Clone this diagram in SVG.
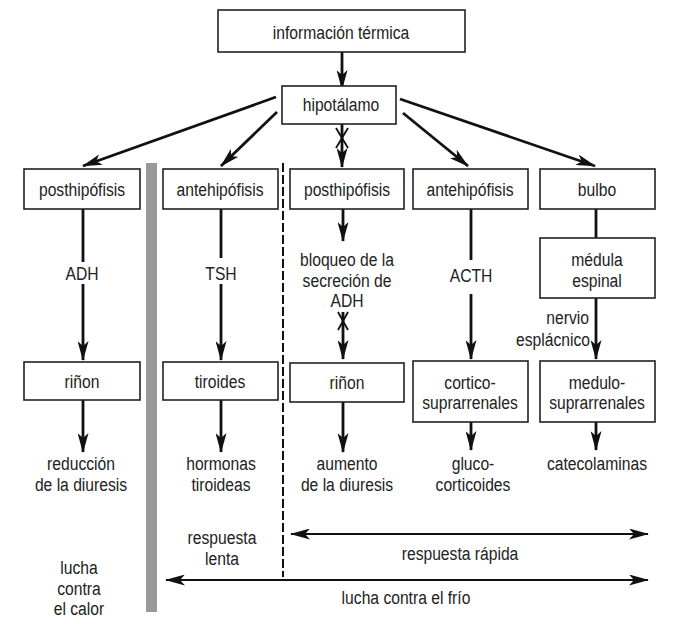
<svg xmlns="http://www.w3.org/2000/svg" width="685" height="624" viewBox="0 0 685 624">
<defs>
<marker id="ah" viewBox="0 0 20 11" markerWidth="20" markerHeight="11" refX="19" refY="5.5" orient="auto-start-reverse" markerUnits="userSpaceOnUse">
<path d="M0,0 L20,5.5 L0,11 L5,5.5 z" fill="#111"/>
</marker>
</defs>
<style>
.box{fill:#fff;stroke:#222;stroke-width:1.6}
text{font-family:"Liberation Sans Narrow","Liberation Sans",Arial,sans-serif;font-size:18px;fill:#222;text-anchor:middle}
.n{transform:scale(0.87,1)}
.ln{stroke:#111;stroke-width:2.8;fill:none}
.ar{stroke:#111;stroke-width:2.8;fill:none;marker-end:url(#ah)}
.dar{stroke:#111;stroke-width:2.2;fill:none;marker-end:url(#ah);marker-start:url(#ah)}
.x{stroke:#111;stroke-width:1.8}
</style>
<rect width="685" height="624" fill="#fff"/>
<rect x="146" y="163" width="11" height="449" fill="#999"/>
<line x1="283" y1="163" x2="283" y2="577" stroke="#111" stroke-width="2" stroke-dasharray="9 3"/>

<g id="connectors">
<line class="ar" x1="342" y1="52" x2="342" y2="89"/>
<line class="ar" x1="276" y1="97" x2="83" y2="166"/>
<line class="ar" x1="277" y1="112" x2="221" y2="166"/>
<line class="ar" x1="342" y1="124" x2="342" y2="167"/>
<line class="x" x1="336" y1="128" x2="348" y2="148"/>
<line class="x" x1="348" y1="128" x2="336" y2="148"/>
<line class="ar" x1="403" y1="113" x2="468" y2="166"/>
<line class="ar" x1="400" y1="99" x2="595" y2="166"/>

<line class="ln" x1="83" y1="209" x2="83" y2="262"/>
<line class="ar" x1="83" y1="284" x2="83" y2="360"/>
<line class="ln" x1="221" y1="209" x2="221" y2="258"/>
<line class="ar" x1="221" y1="284" x2="221" y2="360"/>
<line class="ar" x1="343" y1="209" x2="343" y2="241"/>
<line class="ar" x1="343" y1="312" x2="343" y2="359"/>
<line class="x" x1="338" y1="312" x2="348" y2="330"/>
<line class="x" x1="348" y1="312" x2="338" y2="330"/>
<line class="ln" x1="471" y1="209" x2="471" y2="260"/>
<line class="ar" x1="471" y1="294" x2="471" y2="359"/>
<line class="ln" x1="596" y1="209" x2="596" y2="238"/>
<line class="ar" x1="596" y1="298" x2="596" y2="359"/>

<line class="ar" x1="83" y1="400" x2="83" y2="452"/>
<line class="ar" x1="221" y1="400" x2="221" y2="452"/>
<line class="ar" x1="343" y1="402" x2="343" y2="452"/>
<line class="ar" x1="471" y1="422" x2="471" y2="450"/>
<line class="ar" x1="596" y1="422" x2="596" y2="450"/>

<line class="dar" x1="291" y1="534" x2="648" y2="534"/>
<line class="dar" x1="166" y1="580" x2="648" y2="580"/>
</g>

<g id="informacion"><rect class="box" x="218" y="10" width="247" height="42"/><text class="n" x="391.95" y="39">información térmica</text></g>
<g id="hipotalamo"><rect class="box" x="282" y="86" width="114" height="38"/><text class="n" x="391.95" y="111">hipotálamo</text></g>

<g id="posthipofisis1"><rect class="box" x="24" y="169" width="116" height="40"/><text class="n" x="94.25" y="196">posthipófisis</text></g>
<g id="antehipofisis1"><rect class="box" x="163" y="169" width="115" height="40"/><text class="n" x="252.87" y="196">antehipófisis</text></g>
<g id="posthipofisis2"><rect class="box" x="290" y="169" width="114" height="40"/><text class="n" x="398.85" y="196">posthipófisis</text></g>
<g id="antehipofisis2"><rect class="box" x="413" y="169" width="115" height="40"/><text class="n" x="540.23" y="196">antehipófisis</text></g>
<g id="bulbo"><rect class="box" x="540" y="169" width="115" height="40"/><text class="n" x="686.21" y="196">bulbo</text></g>

<g id="adh"><text class="n" x="94.25" y="280">ADH</text></g>
<g id="tsh"><text class="n" x="254.02" y="280">TSH</text></g>
<g id="bloqueo"><text class="n" x="398.85" y="266">bloqueo de la</text><text class="n" x="398.85" y="287">secreción de</text><text class="n" x="398.85" y="307">ADH</text></g>
<g id="acth"><text class="n" x="541.38" y="282">ACTH</text></g>
<g id="medula"><rect class="box" x="540" y="238" width="115" height="60"/><text class="n" x="686.21" y="266">médula</text><text class="n" x="686.21" y="287">espinal</text></g>
<g id="nervio"><text class="n" x="677.01" y="324" style="text-anchor:end">nervio</text><text class="n" x="678.16" y="346" style="text-anchor:end">esplácnico</text></g>

<g id="rinon1"><rect class="box" x="24" y="362" width="116" height="38"/><text class="n" x="94.25" y="388">riñon</text></g>
<g id="tiroides"><rect class="box" x="163" y="362" width="115" height="38"/><text class="n" x="252.87" y="388">tiroides</text></g>
<g id="rinon2"><rect class="box" x="290" y="363" width="114" height="39"/><text class="n" x="398.85" y="389">riñon</text></g>
<g id="cortico"><rect class="box" x="413" y="361" width="115" height="61"/><text class="n" x="540.23" y="389">cortico-</text><text class="n" x="540.23" y="409">suprarrenales</text></g>
<g id="medulo"><rect class="box" x="540" y="361" width="115" height="61"/><text class="n" x="686.21" y="389">medulo-</text><text class="n" x="686.21" y="409">suprarrenales</text></g>

<g id="reduccion"><text class="n" x="93.10" y="470">reducción</text><text class="n" x="93.10" y="491">de la diuresis</text></g>
<g id="hormonas"><text class="n" x="254.02" y="470">hormonas</text><text class="n" x="254.02" y="491">tiroideas</text></g>
<g id="aumento"><text class="n" x="398.85" y="470">aumento</text><text class="n" x="398.85" y="491">de la diuresis</text></g>
<g id="gluco"><text class="n" x="543.68" y="470">gluco-</text><text class="n" x="543.68" y="491">corticoides</text></g>
<g id="catecolaminas"><text class="n" x="686.21" y="470">catecolaminas</text></g>

<g id="respuesta-lenta"><text class="n" x="255.17" y="544">respuesta</text><text class="n" x="255.17" y="565">lenta</text></g>
<g id="respuesta-rapida"><text class="n" x="528.74" y="560">respuesta rápida</text></g>
<g id="lucha-calor"><text class="n" x="90.80" y="574">lucha</text><text class="n" x="90.80" y="595">contra</text><text class="n" x="90.80" y="615">el calor</text></g>
<g id="lucha-frio"><text class="n" x="466.67" y="604">lucha contra el frío</text></g>
</svg>
